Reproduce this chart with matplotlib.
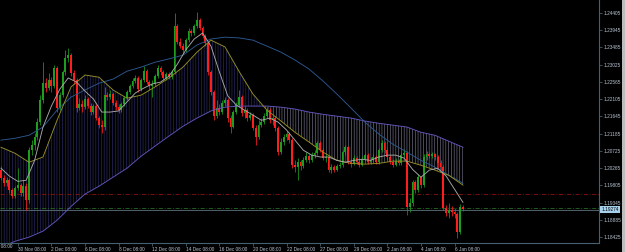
"""H4 candlestick chart with moving averages, drawn in the dark MT4 style."""

import matplotlib
matplotlib.use("Agg")
import matplotlib.pyplot as plt
from matplotlib.patches import Rectangle
import numpy as np

# candles, one per bar (prices)
opens = [
	1.2021, 1.1999, 1.1986, 1.1994, 1.1967, 1.1951, 1.1973, 1.1981, 1.1959, 1.1978,
	1.1941, 1.2074, 1.2088, 1.2109, 1.2149, 1.2208, 1.2253, 1.2240, 1.2261, 1.2245,
	1.2293, 1.2187, 1.2221, 1.2283, 1.2320, 1.2328, 1.2280, 1.2261, 1.2187, 1.2197,
	1.2189, 1.2211, 1.2192, 1.2176, 1.2192, 1.2160, 1.2141, 1.2136, 1.2221, 1.2216,
	1.2224, 1.2200, 1.2189, 1.2181, 1.2197, 1.2213, 1.2229, 1.2245, 1.2259, 1.2267,
	1.2237, 1.2261, 1.2285, 1.2256, 1.2245, 1.2251, 1.2272, 1.2293, 1.2283, 1.2267,
	1.2277, 1.2269, 1.2283, 1.2406, 1.2363, 1.2352, 1.2342, 1.2368, 1.2392, 1.2387,
	1.2406, 1.2422, 1.2400, 1.2379, 1.2360, 1.2283, 1.2229, 1.2165, 1.2187, 1.2176,
	1.2200, 1.2208, 1.2160, 1.2136, 1.2176, 1.2195, 1.2216, 1.2173, 1.2181, 1.2160,
	1.2168, 1.2133, 1.2109, 1.2141, 1.2149, 1.2165, 1.2181, 1.2154, 1.2160, 1.2133,
	1.2069, 1.2096, 1.2109, 1.2117, 1.2101, 1.2034, 1.2029, 1.2042, 1.2031, 1.2047,
	1.2058, 1.2047, 1.2061, 1.2066, 1.2093, 1.2074, 1.2053, 1.2056, 1.2021, 1.2029,
	1.2021, 1.2031, 1.2034, 1.2069, 1.2082, 1.2042, 1.2037, 1.2053, 1.2042, 1.2034,
	1.2050, 1.2061, 1.2042, 1.2047, 1.2056, 1.2042, 1.2074, 1.2093, 1.2074, 1.2056,
	1.2042, 1.2034, 1.2045, 1.2039, 1.2061, 1.2066, 1.1922, 1.1933, 1.1989, 1.1967,
	1.2002, 1.1981, 1.2056, 1.2064, 1.2058, 1.2064, 1.2056, 1.2039, 1.2029, 1.1919,
	1.1906, 1.1914, 1.1908, 1.1903, 1.1855, 1.1922,
]
highs = [
	1.2031, 1.2007, 1.2002, 1.1999, 1.1973, 1.1978, 1.2026, 1.1986, 1.1994, 1.1986,
	1.2082, 1.2101, 1.2120, 1.2160, 1.2221, 1.2309, 1.2267, 1.2280, 1.2269, 1.2301,
	1.2299, 1.2229, 1.2288, 1.2342, 1.2347, 1.2334, 1.2288, 1.2267, 1.2213, 1.2208,
	1.2221, 1.2216, 1.2200, 1.2197, 1.2197, 1.2165, 1.2154, 1.2243, 1.2229, 1.2235,
	1.2229, 1.2208, 1.2197, 1.2203, 1.2219, 1.2235, 1.2251, 1.2267, 1.2275, 1.2272,
	1.2267, 1.2299, 1.2291, 1.2261, 1.2261, 1.2277, 1.2301, 1.2299, 1.2288, 1.2283,
	1.2283, 1.2288, 1.2441, 1.2411, 1.2374, 1.2360, 1.2374, 1.2400, 1.2398, 1.2411,
	1.2443, 1.2427, 1.2406, 1.2384, 1.2363, 1.2288, 1.2235, 1.2208, 1.2197, 1.2208,
	1.2216, 1.2213, 1.2168, 1.2181, 1.2203, 1.2235, 1.2221, 1.2192, 1.2187, 1.2176,
	1.2173, 1.2141, 1.2154, 1.2160, 1.2173, 1.2189, 1.2187, 1.2168, 1.2165, 1.2138,
	1.2106, 1.2117, 1.2125, 1.2122, 1.2106, 1.2047, 1.2053, 1.2047, 1.2056, 1.2069,
	1.2064, 1.2069, 1.2074, 1.2098, 1.2098, 1.2080, 1.2064, 1.2061, 1.2037, 1.2034,
	1.2037, 1.2042, 1.2074, 1.2088, 1.2085, 1.2050, 1.2061, 1.2058, 1.2050, 1.2058,
	1.2066, 1.2066, 1.2056, 1.2064, 1.2061, 1.2080, 1.2101, 1.2098, 1.2080, 1.2061,
	1.2050, 1.2053, 1.2050, 1.2069, 1.2077, 1.2072, 1.1946, 1.1994, 1.1994, 1.2010,
	1.2005, 1.2064, 1.2072, 1.2069, 1.2069, 1.2066, 1.2061, 1.2047, 1.2034, 1.1927,
	1.1933, 1.1924, 1.1919, 1.1908, 1.1930, 1.1927,
]
lows = [
	1.1994, 1.1978, 1.1978, 1.1959, 1.1946, 1.1946, 1.1967, 1.1951, 1.1951, 1.1914,
	1.1933, 1.2061, 1.2074, 1.2101, 1.2141, 1.2200, 1.2229, 1.2235, 1.2229, 1.2240,
	1.2176, 1.2181, 1.2216, 1.2275, 1.2309, 1.2272, 1.2251, 1.2176, 1.2181, 1.2176,
	1.2184, 1.2187, 1.2168, 1.2170, 1.2154, 1.2133, 1.2120, 1.2128, 1.2208, 1.2211,
	1.2195, 1.2181, 1.2173, 1.2176, 1.2192, 1.2208, 1.2224, 1.2240, 1.2253, 1.2229,
	1.2232, 1.2256, 1.2251, 1.2235, 1.2216, 1.2245, 1.2267, 1.2275, 1.2261, 1.2261,
	1.2264, 1.2264, 1.2277, 1.2358, 1.2347, 1.2334, 1.2336, 1.2363, 1.2379, 1.2382,
	1.2400, 1.2395, 1.2374, 1.2352, 1.2275, 1.2221, 1.2154, 1.2160, 1.2168, 1.2170,
	1.2192, 1.2149, 1.2120, 1.2133, 1.2170, 1.2189, 1.2165, 1.2160, 1.2152, 1.2154,
	1.2128, 1.2088, 1.2104, 1.2136, 1.2144, 1.2160, 1.2146, 1.2141, 1.2125, 1.2061,
	1.2064, 1.2088, 1.2101, 1.2093, 1.2026, 1.2015, 1.1994, 1.2021, 1.2026, 1.2042,
	1.2039, 1.2042, 1.2053, 1.2061, 1.2069, 1.2047, 1.2042, 1.2015, 1.2013, 1.2015,
	1.2018, 1.2026, 1.2029, 1.2061, 1.2037, 1.2029, 1.2034, 1.2037, 1.2029, 1.2031,
	1.2045, 1.2037, 1.2037, 1.2042, 1.2037, 1.2037, 1.2069, 1.2066, 1.2047, 1.2037,
	1.2029, 1.2031, 1.2034, 1.2034, 1.2056, 1.1900, 1.1908, 1.1924, 1.1959, 1.1962,
	1.1973, 1.1975, 1.2047, 1.2053, 1.2053, 1.2047, 1.2026, 1.2021, 1.1914, 1.1898,
	1.1892, 1.1898, 1.1892, 1.1839, 1.1850, 1.1911,
]
closes = [
	1.1999, 1.1986, 1.1994, 1.1967, 1.1951, 1.1973, 1.1981, 1.1959, 1.1978, 1.1941,
	1.2074, 1.2088, 1.2109, 1.2149, 1.2208, 1.2253, 1.2240, 1.2261, 1.2245, 1.2293,
	1.2187, 1.2221, 1.2283, 1.2320, 1.2328, 1.2280, 1.2261, 1.2187, 1.2197, 1.2189,
	1.2211, 1.2192, 1.2176, 1.2192, 1.2160, 1.2141, 1.2136, 1.2221, 1.2216, 1.2224,
	1.2200, 1.2189, 1.2181, 1.2197, 1.2213, 1.2229, 1.2245, 1.2259, 1.2267, 1.2237,
	1.2261, 1.2285, 1.2256, 1.2245, 1.2251, 1.2272, 1.2293, 1.2283, 1.2267, 1.2277,
	1.2269, 1.2283, 1.2406, 1.2363, 1.2352, 1.2342, 1.2368, 1.2392, 1.2387, 1.2406,
	1.2422, 1.2400, 1.2379, 1.2360, 1.2283, 1.2229, 1.2165, 1.2187, 1.2176, 1.2200,
	1.2208, 1.2160, 1.2136, 1.2176, 1.2195, 1.2216, 1.2173, 1.2181, 1.2160, 1.2168,
	1.2133, 1.2109, 1.2141, 1.2149, 1.2165, 1.2181, 1.2154, 1.2160, 1.2133, 1.2069,
	1.2096, 1.2109, 1.2117, 1.2101, 1.2034, 1.2029, 1.2042, 1.2031, 1.2047, 1.2058,
	1.2047, 1.2061, 1.2066, 1.2093, 1.2074, 1.2053, 1.2056, 1.2021, 1.2029, 1.2021,
	1.2031, 1.2034, 1.2069, 1.2082, 1.2042, 1.2037, 1.2053, 1.2042, 1.2034, 1.2050,
	1.2061, 1.2042, 1.2047, 1.2056, 1.2042, 1.2074, 1.2093, 1.2074, 1.2056, 1.2042,
	1.2034, 1.2045, 1.2039, 1.2061, 1.2066, 1.1922, 1.1933, 1.1989, 1.1967, 1.2002,
	1.1981, 1.2056, 1.2064, 1.2058, 1.2064, 1.2056, 1.2039, 1.2029, 1.1919, 1.1906,
	1.1914, 1.1908, 1.1903, 1.1855, 1.1922, 1.1916,
]

# moving averages, read every 5 bars (grey one every 3 bars)
ma_step = 5
ma_yellow = [
	1.2082, 1.2066, 1.2042, 1.2056, 1.2154, 1.2243, 1.2275, 1.2269, 1.2235, 1.2213,
	1.2221, 1.2243, 1.2267, 1.2296, 1.2336, 1.2368, 1.2350, 1.2285, 1.2224, 1.2181,
	1.2152, 1.2122, 1.2096, 1.2069, 1.2047, 1.2039, 1.2037, 1.2039, 1.2045, 1.2045,
	1.2034, 1.2021, 1.2007, 1.1981,
]
ma_blue = [
	1.2101, 1.2106, 1.2114, 1.2136, 1.2181, 1.2216, 1.2235, 1.2253, 1.2264, 1.2285,
	1.2296, 1.2309, 1.2318, 1.2328, 1.2355, 1.2371, 1.2376, 1.2374, 1.2368, 1.2352,
	1.2336, 1.2315, 1.2291, 1.2259, 1.2224, 1.2187, 1.2149, 1.2117, 1.2090, 1.2069,
	1.2047, 1.2029, 1.2007, 1.1986,
]
ma_purple = [
	1.1815, 1.1831, 1.1842, 1.1858, 1.1887, 1.1924, 1.1957, 1.1978, 1.2002, 1.2026,
	1.2058, 1.2085, 1.2112, 1.2138, 1.2160, 1.2179, 1.2189, 1.2192, 1.2192, 1.2192,
	1.2189, 1.2184, 1.2176, 1.2170, 1.2165, 1.2160, 1.2152, 1.2146, 1.2141, 1.2136,
	1.2122, 1.2114, 1.2098, 1.2082,
]
grey_step = 3
ma_grey = [
	1.2026, 1.2005, 1.1991, 1.1994, 1.2047, 1.2136, 1.2192, 1.2237, 1.2267, 1.2256,
	1.2232, 1.2211, 1.2176, 1.2176, 1.2179, 1.2203, 1.2227, 1.2240, 1.2251, 1.2256,
	1.2272, 1.2304, 1.2342, 1.2371, 1.2387, 1.2352, 1.2283, 1.2219, 1.2195, 1.2181,
	1.2168, 1.2154, 1.2160, 1.2149, 1.2128, 1.2101, 1.2074, 1.2061, 1.2056, 1.2056,
	1.2047, 1.2042, 1.2047, 1.2050, 1.2047, 1.2056, 1.2061, 1.2061, 1.2053, 1.2023,
	1.2002, 1.2021, 1.2026, 1.2005, 1.1970, 1.1935,
]

level_red = 1.1957
level_green = 1.1920
bid_line = 1.1915
bid_text = "1.19274"

price_ticks = [
	1.24405, 1.23945, 1.23485, 1.23025, 1.22565, 1.22105, 1.21645,
	1.21185, 1.20725, 1.20265, 1.19805, 1.19345, 1.18885, 1.18425,
]
time_labels = [
	"28 Nov 08:00", "30 Nov 08:00", "2 Dec 08:00", "6 Dec 08:00", "8 Dec 08:00",
	"12 Dec 08:00", "14 Dec 08:00", "16 Dec 08:00", "20 Dec 08:00", "22 Dec 08:00",
	"27 Dec 08:00", "29 Dec 08:00", "2 Jan 08:00", "4 Jan 08:00", "6 Jan 08:00",
]

BG = "black"
AXIS_COLOR = "#45606e"
TEXT_COLOR = "#b9c6d2"
UP = "#1e9e1e"
DOWN = "#ff1e1e"
FS = 3.4


def main():
	plt.rcParams["font.family"] = ["Liberation Sans", "DejaVu Sans"]
	plt.rcParams["hatch.linewidth"] = 0.45

	fig = plt.figure(figsize=(6.25, 2.52), dpi=100, facecolor=BG)
	ax = fig.add_axes([0.0, 9 / 252, 599 / 625, 243 / 252], facecolor=BG)

	n = len(closes)
	x = np.arange(n)
	o = np.array(opens)
	c = np.array(closes)
	up = c >= o

	# cloud between the purple line and the yellow average
	xm = np.arange(len(ma_yellow)) * ma_step
	ym = np.array(ma_yellow)
	pm = np.array(ma_purple)
	ax.fill_between(xm, pm, ym, where=ym >= pm, interpolate=True,
		facecolor="none", edgecolor="#2c2c6c", hatch="||||||", linewidth=0, zorder=1)
	ax.fill_between(xm, pm, ym, where=ym < pm, interpolate=True,
		facecolor="none", edgecolor="#74748a", hatch="||||||", linewidth=0, zorder=1)

	# horizontal levels
	ax.axhline(level_red, color="#8c1212", lw=0.6, ls=(0, (5, 2, 1, 2)), zorder=1.5)
	ax.axhline(level_green, color="#246a24", lw=0.6, ls=(0, (5, 2, 1, 2)), zorder=1.5)
	ax.axhline(bid_line, color="#5f707c", lw=0.6, zorder=1.5)

	# candles
	colors = np.where(up, UP, DOWN)
	ax.vlines(x, lows, highs, colors=colors, lw=0.55, zorder=2)
	body_lo = np.minimum(o, c)
	body_h = np.maximum(np.abs(c - o), 0.00008)
	ax.bar(x, body_h, bottom=body_lo, width=0.65, color=colors, linewidth=0, zorder=2)

	# averages
	ax.plot(xm, ma_purple, color="#6256c0", lw=0.65, zorder=3)
	ax.plot(xm, ma_blue, color="#2c5890", lw=0.65, zorder=3)
	ax.plot(xm, ma_yellow, color="#969028", lw=0.65, zorder=3)
	xg = np.arange(len(ma_grey)) * grey_step
	ax.plot(xg, ma_grey, color="#a8a8a8", lw=0.65, zorder=3)

	ax.set_xlim(-0.36, 213.6)
	ax.set_ylim(1.18264, 1.24752)

	for side in ("top", "left"):
		ax.spines[side].set_visible(False)
	for side in ("bottom", "right"):
		ax.spines[side].set_color(AXIS_COLOR)
		ax.spines[side].set_linewidth(0.8)

	ax.yaxis.tick_right()
	ax.set_yticks(price_ticks)
	ax.set_yticklabels([f"{v:.5f}" for v in price_ticks])

	# time labels sit to the right of their tick; the first one is cut by the edge
	tick_bars = np.arange(-6, n, 12)
	ax.set_xticks(tick_bars[1:])
	ax.set_xticklabels(time_labels[1:], ha="left")
	ax.text(tick_bars[0], -0.005, time_labels[0], transform=ax.get_xaxis_transform(),
		fontsize=FS, color=TEXT_COLOR, ha="left", va="top", clip_on=False)
	ax.tick_params(axis="both", colors=AXIS_COLOR, labelcolor=TEXT_COLOR,
		labelsize=FS, length=2, width=0.6, pad=1)

	# current price tag
	ax.text(1.004, bid_line, bid_text, transform=ax.get_yaxis_transform(),
		fontsize=FS, color="black", va="center", ha="left",
		bbox=dict(boxstyle="square,pad=0.25", facecolor="#a6d2ee", edgecolor="none"))

	# scrollbar strip at the right edge
	fig.add_artist(Rectangle((622 / 625, 0), 3 / 625, 1, transform=fig.transFigure,
		facecolor="#bdbdbd", edgecolor="none"))

	fig.savefig("out.png", dpi=100, facecolor=BG)


if __name__ == "__main__":
	main()
